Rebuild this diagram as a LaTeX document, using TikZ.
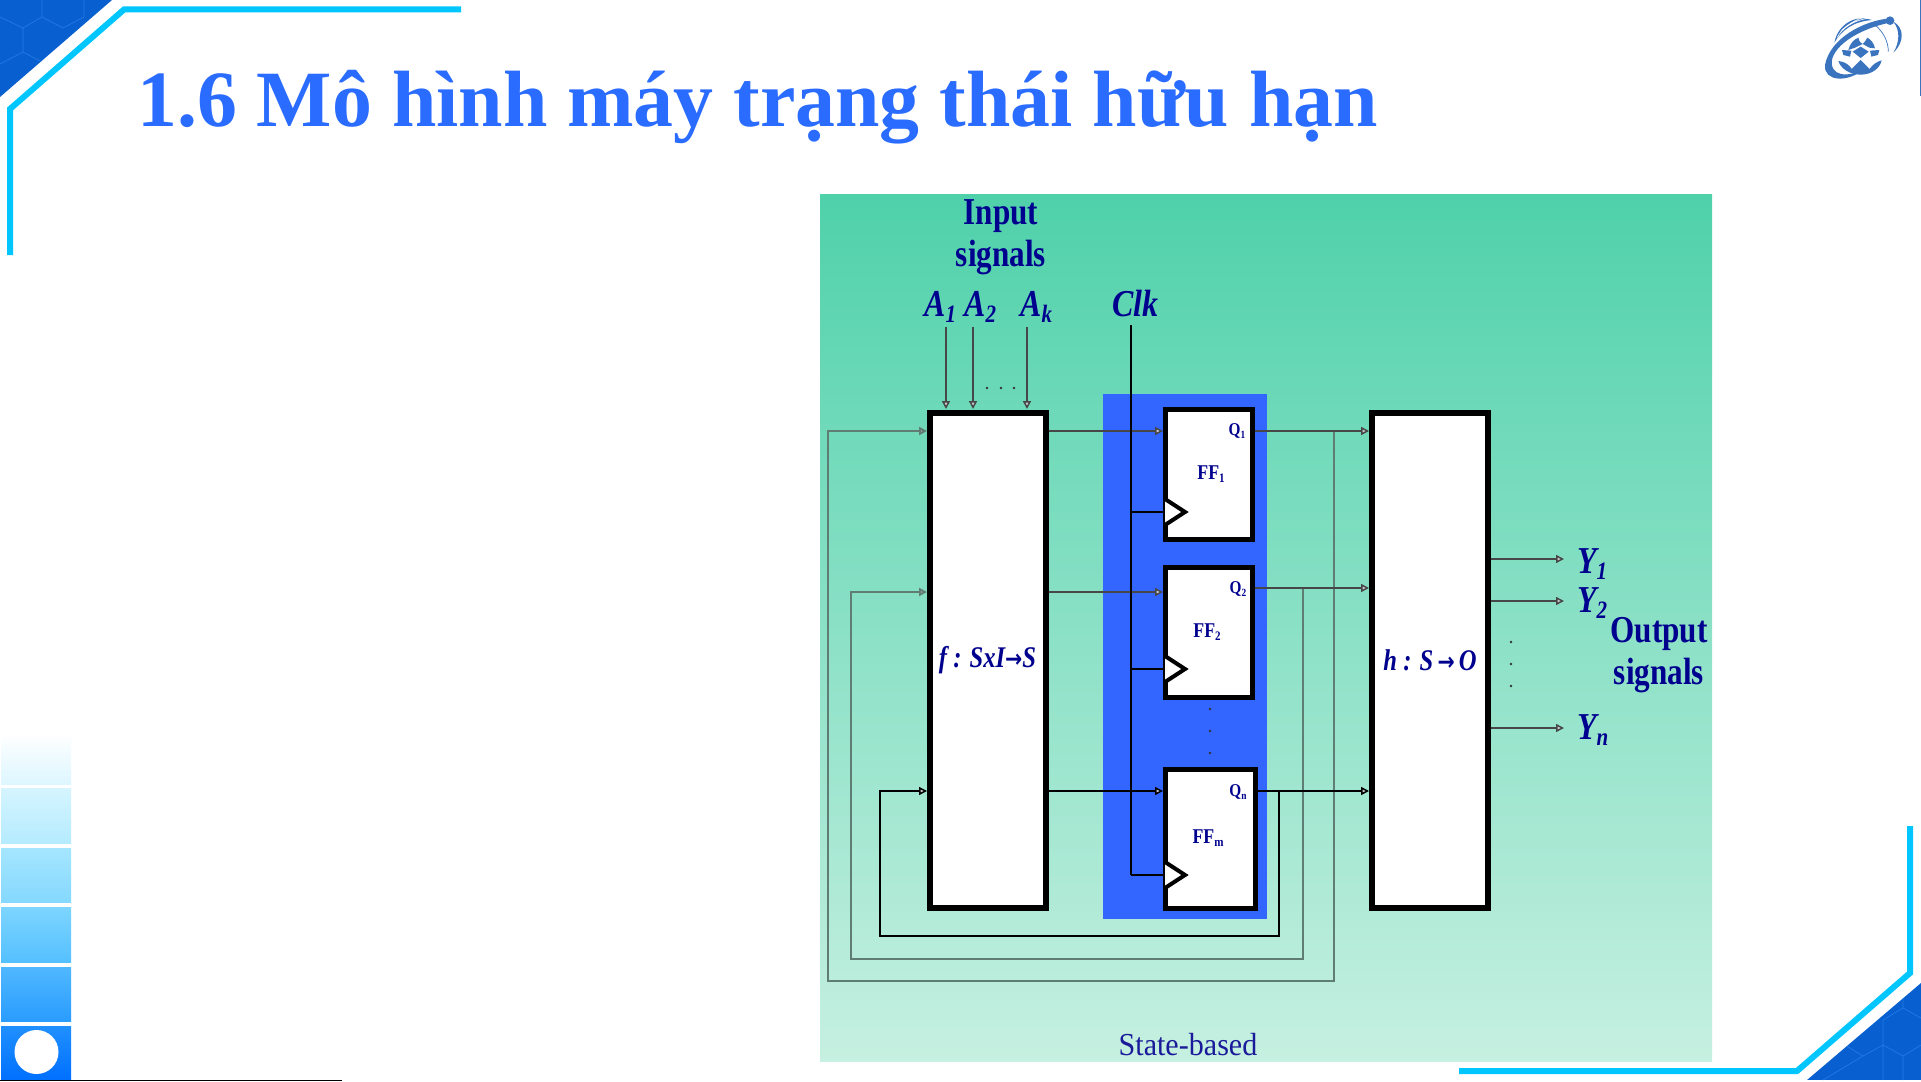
\documentclass[tikz,border=0pt]{standalone}
\usepackage{fontspec}
\setmainfont{Liberation Serif}
\newfontfamily\arrowfont{DejaVu Sans}
\usetikzlibrary{arrows.meta}
\definecolor{navy}{HTML}{00008F}
\definecolor{cyanline}{HTML}{00C6FF}
\definecolor{cornerblue}{HTML}{0860D0}
\definecolor{hexblue}{HTML}{2478E6}
\definecolor{wire}{HTML}{5F7D73}
\definecolor{logoblue}{HTML}{3A74BE}
\definecolor{sa}{HTML}{FFFFFF}\definecolor{sb}{HTML}{DDF6FF}
\definecolor{sc}{HTML}{D5F5FF}\definecolor{sd}{HTML}{B5EBFF}
\definecolor{se}{HTML}{A5E6FF}\definecolor{sf}{HTML}{85D8FF}
\definecolor{sg}{HTML}{7DD5FF}\definecolor{sh}{HTML}{55C0FF}
\definecolor{si}{HTML}{50B8FF}\definecolor{sj}{HTML}{2A9CFF}
\definecolor{sk}{HTML}{2090FF}\definecolor{sl}{HTML}{0070FF}
\definecolor{titleblue}{HTML}{2A6CFF}
\definecolor{paneltop}{HTML}{4FD1AA}
\definecolor{panelbot}{HTML}{C6F0E1}
\definecolor{regblue}{HTML}{3366FF}
\definecolor{statecol}{HTML}{1A1A9A}
\newcommand{\sbs}[2]{\scalebox{.84}[1]{\bfseries\itshape\fontsize{38}{38}\selectfont #1\raisebox{-6pt}{\fontsize{25}{25}\selectfont #2}}}
\newcommand{\clktxt}[1]{\scalebox{.84}[1]{\bfseries\itshape\fontsize{38}{38}\selectfont #1}}
\newcommand{\stacktxt}[2]{\scalebox{.82}[1]{\bfseries\fontsize{38}{42}\selectfont\begin{tabular}[t]{@{}c@{}}#1\\#2\end{tabular}}}
\newcommand{\ffx}[2]{\scalebox{.85}[1]{\bfseries\fontsize{21}{21}\selectfont #1\raisebox{-3pt}{\fontsize{13}{13}\selectfont #2}}}
\newcommand{\qx}[2]{\scalebox{.85}[1]{\bfseries\fontsize{18}{18}\selectfont #1\raisebox{-3pt}{\fontsize{11}{11}\selectfont #2}}}
\newcommand{\mapx}[1]{\scalebox{.82}[1]{\bfseries\itshape\fontsize{30}{30}\selectfont #1}}
\newcommand{\arr}{{\arrowfont\upshape\bfseries\fontsize{25}{25}\selectfont →}}
\tikzset{
  x=1pt,y=-1pt,
  blockbox/.style={draw=black,fill=white,line width=6pt,minimum width=116pt,minimum height=495pt,inner sep=0pt,text=navy},
  ffbox/.style={draw=black,fill=white,line width=5pt,minimum width=87pt,inner sep=0pt},
  tip/.style={-{Triangle[length=8pt,width=8pt,fill=gray!40]}},
  wirein/.style={draw=black!72,line width=1.5pt,tip},
  wirefb/.style={draw=wire,line width=2.2pt},
  wireblack/.style={draw=black,line width=1.5pt},
  clockline/.style={draw=black,line width=1.5pt},
  clocktri/.style={draw=black,fill=white,line width=4pt,line join=miter},
  sig/.style={anchor=base,text=navy,inner sep=0pt},
  lab/.style={anchor=base west,text=navy,inner sep=0pt},
  fflab/.style={text=navy,inner sep=0pt},
  cyanpath/.style={draw=cyanline,line width=6pt,line join=miter},
  hexline/.style={draw=hexblue,line width=.7pt},
  dotblack/.style={fill=black!80,circle,inner sep=0pt,minimum size=2.8pt},
}
\begin{document}
\begin{tikzpicture}
\useasboundingbox (0,0) rectangle (1921,1081);
\fill[white] (0,0) rectangle (1921,1081);

% frame decoration
\begin{scope}
  \clip (0,0) -- (112,0) -- (0,97) -- cycle;
  \fill[cornerblue] (0,0) rectangle (112,97);
  \draw[hexline] (0,17)--(23,28)--(42,17)--(42,0) (42,17)--(63,28)--(84,17)--(84,0) (23,28)--(23,52)--(0,64) (23,52)--(42,62);
\end{scope}
\draw[cyanpath] (461,9.5) -- (124,9.5) -- (10,109) -- (10,255);
\begin{scope}
  \clip (1807,1080) -- (1921,983) -- (1921,1080) -- cycle;
  \fill[cornerblue] (1807,983) rectangle (1921,1080);
  \draw[hexline] (1883,1080)--(1883,1045)--(1903,1056)--(1903,1080) (1883,1045)--(1883,1020)--(1903,1008)--(1921,1018) (1883,1045)--(1863,1056)--(1823,1080) (1863,1056)--(1845,1045) (1903,1056)--(1921,1045) (1903,1008)--(1903,990);
\end{scope}
\draw[cyanpath] (1459,1071) -- (1797,1071) -- (1910,973) -- (1910,826);

% left strip
\shade[top color=sa,bottom color=sb] (1,733) rectangle (71,784);
\shade[top color=sc,bottom color=sd] (1,788) rectangle (71,843);
\shade[top color=se,bottom color=sf] (1,848) rectangle (71,902);
\shade[top color=sg,bottom color=sh] (1,907) rectangle (71,962);
\shade[top color=si,bottom color=sj] (1,967) rectangle (71,1021);
\shade[top color=sk,bottom color=sl] (1,1026) rectangle (71,1080);
\fill[white] (36.5,1052) circle (22);
\draw[black,line width=1.5pt] (0,1080.3) -- (342,1080.3);
\draw[logoblue,line width=1.5pt] (1920.3,0) -- (1920.3,96);

% title
\node[anchor=base west,inner sep=0pt,text=titleblue,font=\bfseries\fontsize{79.8}{80}\selectfont] (title) at (137,126) {1.6 Mô hình máy trạng thái hữu hạn};

% logo (coordinates in thirds of a pixel)
\begin{scope}[shift={(1780,0)},x=.3333pt,y=-.3333pt,logoblue]
  \fill (330,62) circle (13);
  \fill (330,55) .. controls (250,62) and (150,115) .. (135,195) .. controls (130,245) and (205,250) .. (255,205) .. controls (205,235) and (145,230) .. (157,175) .. controls (175,120) and (265,80) .. (330,68) -- cycle;
  \fill (163,128) .. controls (170,85) and (215,40) .. (275,60) .. controls (220,65) and (185,90) .. (163,128) -- cycle;
  \draw[white,line width=.6pt] (172,112) .. controls (185,85) and (220,62) .. (262,55) (182,95) .. controls (195,78) and (222,62) .. (250,52);
  \fill (340,65) .. controls (372,82) and (375,125) .. (340,158) .. controls (360,125) and (360,90) .. (340,65) -- cycle;
  \draw[line width=.7pt] (285,75) .. controls (310,95) and (325,125) .. (325,155);
  % lotus
  \fill (205,150) .. controls (210,130) and (222,118) .. (235,113) .. controls (238,125) and (242,130) .. (248,132) -- (225,143) -- cycle;
  \fill (285,145) .. controls (282,130) and (272,118) .. (262,113) .. controls (258,122) and (252,128) .. (248,132) -- (268,143) -- cycle;
  \fill (218,155) -- (242,140) -- (266,155) -- (242,174) -- cycle;
  \fill (186,150) -- (214,152) -- (210,170) -- (190,165) -- cycle;
  \fill (298,150) -- (270,152) -- (274,170) -- (294,165) -- cycle;
  \fill (175,183) .. controls (195,185) and (208,195) .. (215,207) -- (242,180) -- (269,207) .. controls (276,195) and (290,185) .. (305,181) .. controls (300,205) and (275,224) .. (242,224) .. controls (208,224) and (182,205) .. (175,183) -- cycle;
\end{scope}

% panel
\shade[top color=paneltop,bottom color=panelbot] (820,194) rectangle (1712,1061);
\fill[regblue] (1102.5,394) rectangle (1267,919);

% named ports
\coordinate (a1top) at (946,327);
\coordinate (a2top) at (973,327);
\coordinate (aktop) at (1027,327);
\coordinate (a1in) at (946,409);
\coordinate (a2in) at (973,409);
\coordinate (akin) at (1027,409);
\coordinate (clktop) at (1131,325);
\coordinate (clk1) at (1131,512);
\coordinate (clk2) at (1131,669);
\coordinate (clkm) at (1131,875);

% wires
\draw[wirein] (a1top) -- (a1in);
\draw[wirein] (a2top) -- (a2in);
\draw[wirein] (aktop) -- (akin);

\draw[wirefb,tip] (1334,431) -- (1334,981) -- (828,981) -- (828,431) -- (927,431);
\draw[wirefb,tip] (1303,588) -- (1303,959) -- (851,959) -- (851,592) -- (927,592);
\draw[wireblack,tip] (1279,791) -- (1279,936) -- (880,936) -- (880,791) -- (927,791);
\draw[wirein] (1047,431) -- (1163,431);
\draw[wirein] (1047,592) -- (1163,592);
\draw[wireblack,tip] (1047,791) -- (1163,791);
\draw[wirein] (1254,431) -- (1369,431);
\draw[wirein] (1254,588) -- (1369,588);
\draw[wireblack,tip] (1257,791) -- (1369,791);
\draw[wireblack] (clktop) -- (clkm);

% blocks
\node[blockbox] (f) at (987.5,660.5) {\mapx{f : SxI\arr S}};
\node[blockbox] (h) at (1430,660) {\mapx{h : S\,\arr\,O}};
\node[ffbox,minimum height=130pt] (ff1) at (1208.5,474) {};
\node[ffbox,minimum height=130pt] (ff2) at (1208.5,632.5) {};
\node[ffbox,minimum width=90pt,minimum height=139pt] (ffm) at (1210,839) {};

% clock inputs
\draw[clockline] (clk1) -- (ff1.west |- clk1);
\draw[clockline] (clk2) -- (ff2.west |- clk2);
\draw[clockline] (clkm) -- (ffm.west |- clkm);
\draw[clocktri] (1165,499) -- (1185,512) -- (1165,525);
\draw[clocktri] (1165,656) -- (1185,669) -- (1165,682);
\draw[clocktri] (1165,862) -- (1185,875) -- (1165,888);

% outputs
\coordinate (y1) at (1564,559);
\coordinate (y2) at (1564,601);
\coordinate (yn) at (1564,728);
\draw[wirein] (h.east |- y1) -- (y1);
\draw[wirein] (h.east |- y2) -- (y2);
\draw[wirein] (h.east |- yn) -- (yn);

% text
\node[sig] (insig) at (1001,224) {\stacktxt{Input}{signals}};
\node[sig] (outsig) at (1659,642) {\stacktxt{Output}{signals}};
\node[lab] (la1) at (924,316) {\sbs{A}{1}};
\node[lab] (la2) at (964,316) {\sbs{A}{2}};
\node[lab] (lak) at (1020,316) {\sbs{A}{k}};
\node[lab] (lclk) at (1112,316) {\clktxt{Clk}};
\node[lab] (ly1) at (1577,573) {\sbs{Y}{1}};
\node[lab] (ly2) at (1577,612) {\sbs{Y}{2}};
\node[lab] (lyn) at (1577,739) {\sbs{Y}{n}};
\node[fflab] (t1) at (1211,474) {\ffx{FF}{1}};
\node[fflab] (t2) at (1207,632) {\ffx{FF}{2}};
\node[fflab] (tm) at (1208,838) {\ffx{FF}{m}};
\node[fflab] (q1) at (1237,431) {\qx{Q}{1}};
\node[fflab] (q2) at (1238,589) {\qx{Q}{2}};
\node[fflab] (qm) at (1238,792) {\qx{Q}{n}};
\node[anchor=base,text=statecol,inner sep=0pt] (state) at (1188,1055) {\scalebox{.94}[1]{\fontsize{32}{32}\selectfont State-based}};

% dots
\foreach \n/\px/\py in {a/987/388,b/1001/388,c/1014/388,d/1210/709,e/1210/731,g/1210/753,i/1511/642,j/1511/664,k/1511/686}
  \node[dotblack] (dot\n) at (\px,\py) {};
\end{tikzpicture}
\end{document}
